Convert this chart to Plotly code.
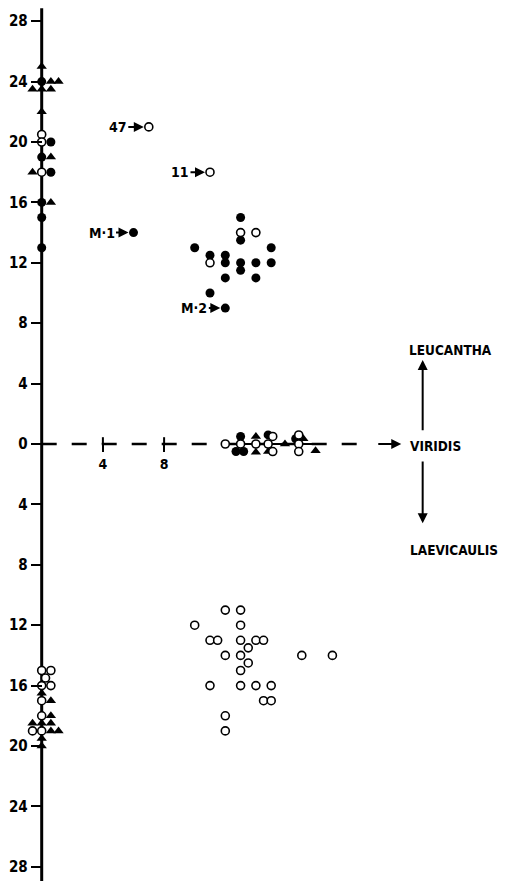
import plotly.graph_objects as go

FONT = "DejaVu Sans Condensed, Liberation Sans, sans-serif"

# ---- axis ticks ----
y_ticks = [28, 24, 20, 16, 12, 8, 4, 0, -4, -8, -12, -16, -20, -24, -28]
y_tick_labels = [str(abs(v)) for v in y_ticks]
x_ticks = [4, 8]
x_tick_labels = ["4", "8"]

# ---- LEUCANTHA side (positive) ----
filled_circle_x = [6, 12, 13, 13, 10, 15, 11, 12, 12, 13, 14, 15, 13, 12, 14, 11,
                   0, 0.6, 0, 0.6, 0, 0, 0]
filled_circle_y = [14, 9, 15, 13.5, 13, 13, 12.5, 12.5, 12, 12, 12, 12, 11.5, 11, 11, 10,
                   24, 20, 19, 18, 16, 15, 13]
open_upper_x = [7, 11, 13, 14, 11, 0, 0, 0]
open_upper_y = [21, 18, 14, 14, 12, 20.5, 20, 18]
tri_upper_x = [0, 0.6, 1.1, -0.6, 0, 0.6, 0, 0.6, -0.6, 0.6]
tri_upper_y = [25, 24, 24, 23.5, 23.5, 23.5, 22, 19, 18, 16]

# ---- VIRIDIS (zero line) ----
zero_open_x = [12, 13, 14, 14.8, 15.1, 15.1, 16.8, 16.8, 16.8]
zero_open_y = [0, 0, 0, 0, 0.5, -0.5, 0.6, 0, -0.5]
zero_filled_x = [13, 12.7, 13.2, 14.8, 16.6]
zero_filled_y = [0.5, -0.5, -0.5, 0.6, 0.35]
zero_tri_x = [14, 14, 14.8, 15.9, 17.1, 17.9]
zero_tri_y = [0.5, -0.55, -0.5, 0, 0.35, -0.45]

# ---- LAEVICAULIS side (negative) ----
open_lower_x = [12, 13, 10, 13, 11, 11.5, 13, 14, 14.5, 13.5, 12, 13, 13.5, 17, 19,
                13, 11, 13, 14, 15, 14.5, 15, 12, 12,
                0, 0.6, 0.25, 0, 0.6, 0, 0, -0.6, 0]
open_lower_y = [-11, -11, -12, -12, -13, -13, -13, -13, -13, -13.5, -14, -14, -14.5, -14, -14,
                -15, -16, -16, -16, -16, -17, -17, -18, -19,
                -15, -15, -15.5, -16, -16, -17, -18, -19, -19]
tri_lower_x = [0, 0.6, 0.6, -0.6, 0, 0.6, 0.6, 1.1, 0, 0]
tri_lower_y = [-16.5, -17, -18, -18.5, -18.5, -18.5, -19, -19, -19.5, -20]

# ---- labelled points ----
label_texts = ["47", "11", "M·1", "M·2"]
label_x = [7, 11, 6, 12]
label_y = [21, 18, 14, 9]

PX_X = 15.3   # pixels per unit (x)
PX_Y = 15.1   # pixels per unit (y)
PAGE_OFF = 8  # default body margin of the page
X0_PX = 41.7 - PAGE_OFF
Y0_PX = 444 - PAGE_OFF
W, H = 506 - PAGE_OFF, 881 - PAGE_OFF

fig = go.Figure()

def add(xs, ys, symbol, size, fill, lw=0):
    fig.add_trace(go.Scatter(
        x=xs, y=ys, mode="markers", showlegend=False, hoverinfo="skip",
        marker=dict(symbol=symbol, size=size, color=fill,
                    line=dict(color="black", width=lw))))

add(tri_upper_x, tri_upper_y, "triangle-up", 9, "black")
add(tri_lower_x, tri_lower_y, "triangle-up", 9, "black")
add(zero_tri_x, zero_tri_y, "triangle-up", 9, "black")
add(filled_circle_x, filled_circle_y, "circle", 9, "black")
add(zero_filled_x, zero_filled_y, "circle", 9, "black")
add(open_upper_x, open_upper_y, "circle", 8, "white", 1.6)
add(zero_open_x, zero_open_y, "circle", 8, "white", 1.6)
add(open_lower_x, open_lower_y, "circle", 8, "white", 1.6)

# vertical axis line
fig.add_shape(type="line", xref="x", yref="y", x0=0, x1=0, y0=28.85, y1=-29.5,
              line=dict(color="black", width=3), layer="below")
# horizontal dashed line
fig.add_shape(type="line", xref="x", yref="y", x0=0, x1=20.93, y0=0, y1=0,
              line=dict(color="black", width=2.5, dash="15px,15px"), layer="below")
# solid section through viridis cluster
fig.add_shape(type="line", xref="x", yref="y", x0=11.87, x1=18.06, y0=0, y1=0,
              line=dict(color="black", width=2), layer="below")
# upper halves of x ticks
for t in x_ticks:
    fig.add_shape(type="line", xref="x", yref="y", x0=t, x1=t, y0=0, y1=0.45,
                  line=dict(color="black", width=2), layer="below")

bold = dict(family=FONT, size=14, color="black", weight="bold")
cat_font = dict(family=FONT, size=13.5, color="black", weight="bold")

# labels with arrows to points
offsets = [-31, -30, -32, -31]
for t, x, y, ox in zip(label_texts, label_x, label_y, offsets):
    fig.add_annotation(x=x, y=y, xref="x", yref="y", text=t, showarrow=True,
                       ax=ox, ay=0, arrowhead=2, arrowsize=1, arrowwidth=2,
                       arrowcolor="black", standoff=5, font=bold)

# arrows to categories
fig.add_annotation(x=23.5, y=0, ax=21.9, ay=0, xref="x", yref="y", axref="x", ayref="y",
                   text="", showarrow=True, arrowhead=2, arrowsize=1, arrowwidth=2,
                   arrowcolor="black")
fig.add_annotation(x=24.9, y=5.56, ax=24.9, ay=0.81, xref="x", yref="y", axref="x", ayref="y",
                   text="", showarrow=True, arrowhead=2, arrowsize=1, arrowwidth=2,
                   arrowcolor="black")
fig.add_annotation(x=24.9, y=-5.25, ax=24.9, ay=-1.06, xref="x", yref="y", axref="x", ayref="y",
                   text="", showarrow=True, arrowhead=2, arrowsize=1, arrowwidth=2,
                   arrowcolor="black")

fig.add_annotation(x=23.85, y=6.2, xref="x", yref="y", text="LEUCANTHA", showarrow=False,
                   xanchor="left", font=cat_font)
fig.add_annotation(x=23.95, y=-0.1, xref="x", yref="y", text="VIRIDIS", showarrow=False,
                   xanchor="left", font=cat_font)
fig.add_annotation(x=23.95, y=-7.0, xref="x", yref="y", text="LAEVICAULIS", showarrow=False,
                   xanchor="left", font=cat_font)

fig.update_layout(
    width=W, height=H,
    margin=dict(l=0, r=0, t=0, b=0),
    paper_bgcolor="white", plot_bgcolor="white",
    showlegend=False,
    xaxis=dict(range=[-X0_PX / PX_X, (W - X0_PX) / PX_X], domain=[0, 1],
               showgrid=False, zeroline=False, showline=False,
               tickvals=x_ticks, ticktext=x_tick_labels,
               ticks="outside", ticklen=7, tickwidth=2, tickcolor="black",
               tickfont=dict(family=FONT, size=14, color="black", weight="bold"),
               anchor="free", position=(H - Y0_PX) / H, automargin=False),
    yaxis=dict(range=[-(H - Y0_PX) / PX_Y, Y0_PX / PX_Y], domain=[0, 1],
               showgrid=False, zeroline=False, showline=False,
               tickvals=y_ticks, ticktext=y_tick_labels,
               ticks="outside", ticklen=11, tickwidth=2, tickcolor="black",
               tickfont=dict(family=FONT, size=15, color="black", weight="bold"),
               anchor="free", position=X0_PX / W, automargin=False),
)

fig.write_html("out.html")
